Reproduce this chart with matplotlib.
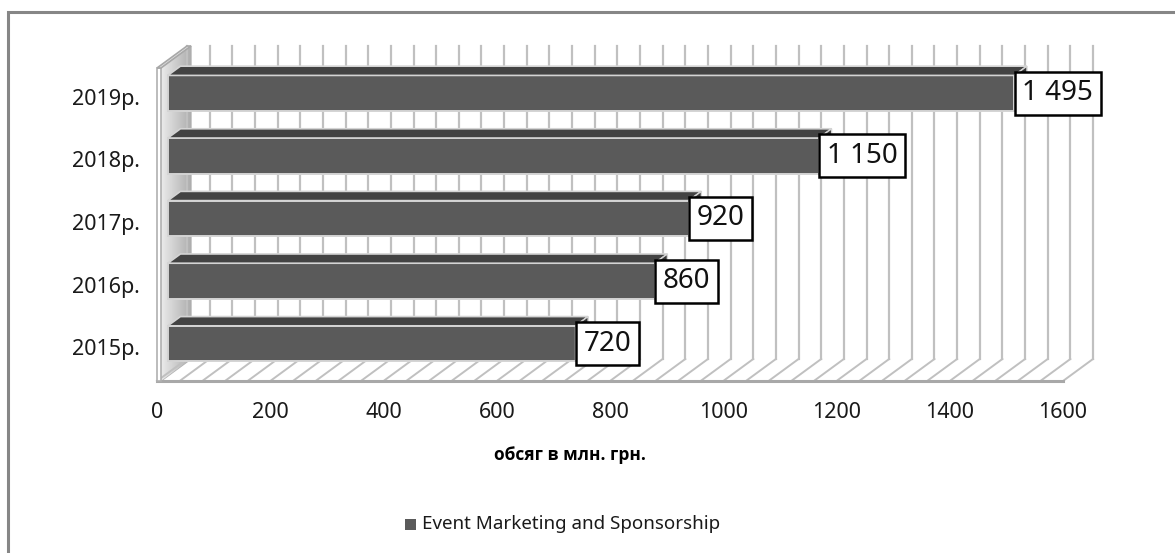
import matplotlib
matplotlib.use("Agg")
import matplotlib.pyplot as plt
import numpy as np
from matplotlib.patches import Polygon, Rectangle

plt.rcParams['font.family'] = ['Noto Sans', 'DejaVu Sans']

years = ['2015р.', '2016р.', '2017р.', '2018р.', '2019р.']
volumes = [720, 860, 920, 1150, 1495]
x_ticks = [0, 200, 400, 600, 800, 1000, 1200, 1400, 1600]
series_name = 'Event Marketing and Sponsorship'
axis_title = 'обсяг в млн. грн.'

W, H = 1175, 553
fig = plt.figure(figsize=(W / 100, H / 100), dpi=100)
ax = fig.add_axes([0, 0, 1, 1])
ax.set_axis_off()

# pixel scale of the front plane, used to build the oblique 3d look
sx = 906 / 1600.0     # px per value unit
su = 62.6             # px per category
x_org, y_org = 157, 381
ax.set_xlim(-x_org / sx, (W - x_org) / sx)
ax.set_ylim(-0.5 - (H - y_org) / su, -0.5 + y_org / su)

# depth vector (front -> back wall)
dx, dy = 30 / sx, 22 / su
vmax = 1600
u0, u1 = -0.5, len(years) - 0.5
grid_step = 40

front_col = '#5a5a5a'
top_col = '#434343'
side_col = '#363636'
edge_col = '#d4d4d4'
grid_col = '#c0c0c0'

# left wall: inner face with a soft gradient, then the thin front edge
wt = 7
inner = Polygon([(wt, u0), (wt, u1), (wt + dx, u1 + dy), (wt + dx, u0 + dy)],
                closed=True, fc='none', ec='#b0b0b0', lw=1, zorder=1)
ax.add_patch(inner)
grad = np.linspace(0.92, 0.68, 64).reshape(1, -1)
im = ax.imshow(grad, cmap='gray', vmin=0, vmax=1, aspect='auto',
               extent=(wt, wt + dx, u0, u1 + dy), zorder=1, interpolation='bilinear')
im.set_clip_path(inner)
ax.add_patch(Polygon([(0, u0), (0, u1), (wt, u1), (wt, u0)], closed=True,
                     fc='white', ec='#b0b0b0', lw=1.2, zorder=2))
ax.add_patch(Polygon([(0, u1), (wt, u1), (wt + dx, u1 + dy), (dx, u1 + dy)],
                     closed=True, fc='#e4e4e4', ec='#a8a8a8', lw=1.2, zorder=2))

# back wall gridlines and floor hatch
for v in range(0, vmax + 1, grid_step):
    ax.plot([v + dx, v + dx], [u0 + dy, u1 + dy], color=grid_col, lw=1.6, zorder=1.5)
    ax.plot([v, v + dx], [u0, u0 + dy], color=grid_col, lw=1.4, zorder=1.5)
ax.plot([0, vmax], [u0, u0], color='#a8a8a8', lw=2.2, zorder=1.6)

# bars: front face, top face and end face
f0, f1 = 0.36, 0.78
bh = 0.57
ox, oy = f0 * dx, f0 * dy - 0.03
ddx, ddy = (f1 - f0) * dx, (f1 - f0) * dy
ypos = np.arange(len(years)) + oy
ax.barh(ypos, volumes, left=ox, height=bh, color=front_col,
        edgecolor=edge_col, linewidth=1.4, zorder=3)
for y, v in zip(ypos, volumes):
    yt, yb = y + bh / 2, y - bh / 2
    xe = ox + v
    ax.add_patch(Polygon([(ox, yt), (xe, yt), (xe + ddx, yt + ddy), (ox + ddx, yt + ddy)],
                         closed=True, fc=top_col, ec=edge_col, lw=1.2, zorder=3.1))
    ax.add_patch(Polygon([(xe, yb), (xe, yt), (xe + ddx, yt + ddy), (xe + ddx, yb + ddy)],
                         closed=True, fc=side_col, ec=edge_col, lw=1.0, zorder=3.1))
    label = f'{v:,}'.replace(',', ' ')
    ax.text(xe + 14, y, label, ha='left', va='center', fontsize=20, color='#111111',
            zorder=5, bbox=dict(boxstyle='square,pad=0.27', fc='white', ec='black', lw=1.8))

# category and value labels
for i, yr in enumerate(years):
    ax.text(-30, i, yr, ha='right', va='center', fontsize=15.5, color='#1a1a1a')
for v in x_ticks:
    ax.text(v, -0.5 - 32 / su, str(v), ha='center', va='center', fontsize=15.5,
            color='#1a1a1a')

fig.text(570 / W, 1 - 455 / H, axis_title, ha='center', va='center',
         fontsize=12.5, fontweight='bold', color='black',
         family=['Open Sans', 'DejaVu Sans'])

# legend
fig.add_artist(Rectangle((405 / W, 1 - 530 / H), 11 / W, 11 / H,
                         transform=fig.transFigure, fc=front_col, ec='none'))
fig.text(422 / W, 1 - 524 / H, series_name, ha='left', va='center',
         fontsize=13.5, color='#1a1a1a')

# chart border
fig.add_artist(Rectangle((8 / W, -0.2), 1.2, 1.2 - 12 / H, transform=fig.transFigure,
                         fc='none', ec='#868686', lw=2.2))

fig.savefig('out.png', dpi=100)
